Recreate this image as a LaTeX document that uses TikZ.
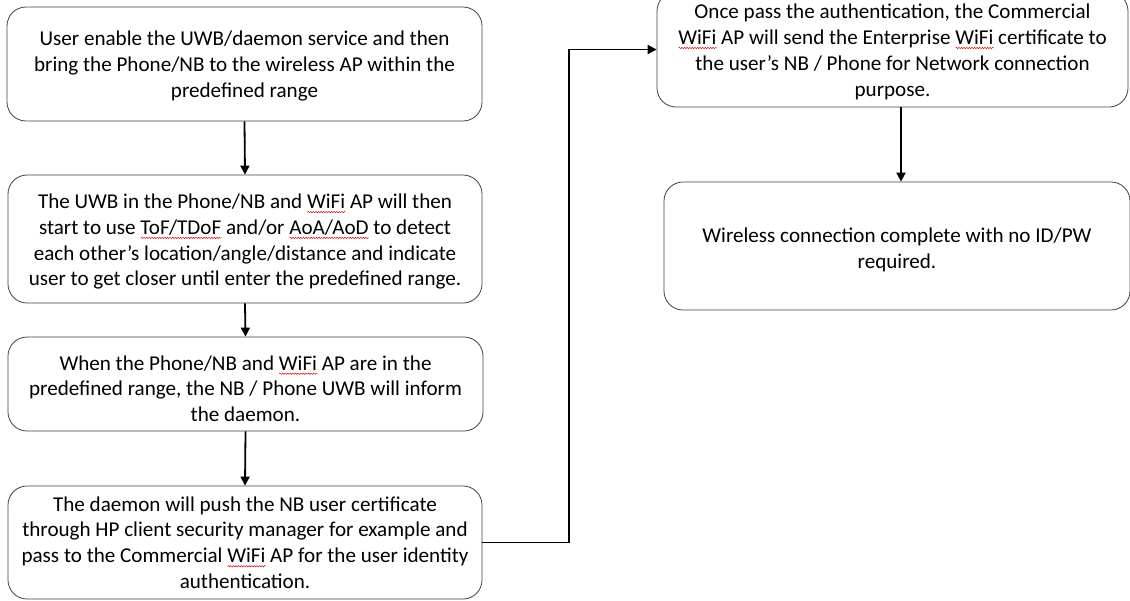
\documentclass[tikz,border=0pt]{standalone}
\usepackage{fontspec}
\setmainfont{Carlito}
\usetikzlibrary{arrows.meta,decorations.pathmorphing}
\newsavebox\sqbox
\newcommand\sqw[1]{\sbox\sqbox{#1}\rlap{\smash{\raisebox{-3.6pt}{\tikz[baseline=0pt,x=1pt,y=1pt]\draw[red!85!black, line width=0.45pt, sharp corners, decorate, decoration={snake, amplitude=0.7pt, segment length=2.6pt}] (0pt,0pt) -- (\the\wd\sqbox,0pt);}}}\usebox\sqbox}
\begin{document}
\begin{tikzpicture}[x=1pt,y=-1pt,
  box/.style={draw=black!75, line width=0.8pt, rounded corners=19pt, align=center,
    font=\fontsize{21.1}{25.8}\selectfont, inner sep=0pt},
  arr/.style={draw=black, line width=1.8pt, -{Triangle[length=9pt,width=9pt]}}]
\useasboundingbox (0,0) rectangle (1130,600);
\node[box, minimum width=475pt, minimum height=114pt] (b1) at (244.5,64)
  {\rule{0pt}{19pt}User enable the UWB/daemon service and then\\bring the Phone/NB to the wireless AP within the\\predefined range};
\node[box, minimum width=474pt, minimum height=128pt] (b2) at (245,239)
  {\rule{0pt}{20pt}The UWB in the Phone/NB and \sqw{WiFi} AP will then\\start to use \sqw{ToF/TDoF} and/or \sqw{AoA/AoD} to detect\\each other’s location/angle/distance and indicate\\user to get closer until enter the predefined range.};
\node[box, minimum width=475pt, minimum height=94pt] (b3) at (245.5,384)
  {\rule{0pt}{24pt}When the Phone/NB and \sqw{WiFi} AP are in the\\predefined range, the NB / Phone UWB will inform\\the daemon.};
\node[box, minimum width=474pt, minimum height=113pt] (b4) at (245,542.5)
  {The daemon will push the NB user certificate\\through HP client security manager for example and\\pass to the Commercial \sqw{WiFi} AP for the user identity\\authentication.};
\node[box, minimum width=471pt, minimum height=115pt] (b5) at (892.5,49.5)
  {\rule{0pt}{19pt}Once pass the authentication, the Commercial\\\sqw{WiFi} AP will send the Enterprise \sqw{WiFi} certificate to\\the user’s NB / Phone for Network connection\\purpose.};
\node[box, minimum width=466pt, minimum height=128pt] (b6) at (897,246)
  {\rule{0pt}{22pt}Wireless connection complete with no ID/PW\\required.};
\coordinate (m) at (569,0);
\coordinate (d) at (901,0);
\draw[arr] (b1.south) -- (b2.north);
\draw[arr] (b2.south) -- (b3.north);
\draw[arr] (b3.south) -- (b4.north);
\draw[arr] (b4.east) -- (b4.east -| m) -- (b5.west -| m) -- (b5.west);
\draw[arr] (b5.south -| d) -- (b6.north -| d);
\end{tikzpicture}
\end{document}
